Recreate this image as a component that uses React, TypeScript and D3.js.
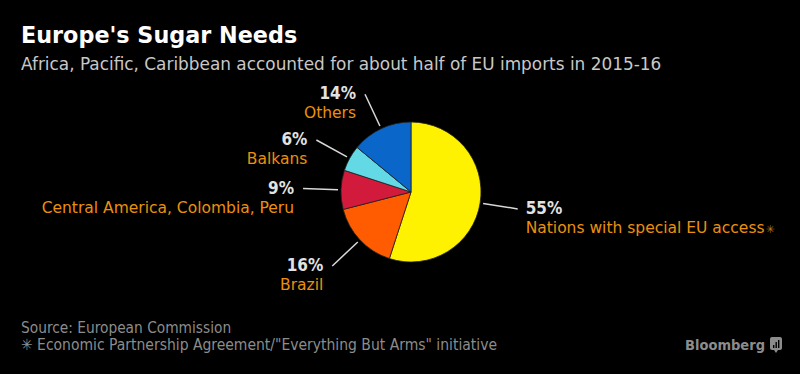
import { useEffect, useRef } from 'react';
import * as d3 from 'd3';

const categories = ['Nations with special EU access', 'Brazil', 'Central America, Colombia, Peru', 'Balkans', 'Others'];
const shares = [55, 16, 9, 6, 14];
const sliceColors = ['#fff200', '#ff5b00', '#d21a3c', '#63d9e6', '#0a67c9'];

const WIDE = '"DejaVu Sans", sans-serif';
const NARROW = '"DejaVu Sans Condensed", "DejaVu Sans", sans-serif';

function App() {
    const svgRef = useRef<SVGSVGElement>(null);

    useEffect(() => {
        const svg = d3.select(svgRef.current);
        svg.selectAll('*').remove();

        // titles
        svg.append('text')
            .attr('x', 21).attr('y', 43)
            .attr('fill', '#ffffff')
            .attr('font-family', WIDE)
            .attr('font-weight', 'bold')
            .attr('font-size', 22.3)
            .text("Europe's Sugar Needs");

        svg.append('text')
            .attr('x', 21).attr('y', 70)
            .attr('fill', '#c8c8c8')
            .attr('font-family', WIDE)
            .attr('font-size', 16.9)
            .text('Africa, Pacific, Caribbean accounted for about half of EU imports in 2015-16');

        const cx = 411, cy = 192, radius = 70;
        const g = svg.append('g').attr('transform', `translate(${cx},${cy})`);

        const data = categories.map((c, i) => ({ name: c, value: shares[i], color: sliceColors[i] }));
        const pie = d3.pie<any>().value(d => d.value).sort(null);
        const arc = d3.arc<any>().innerRadius(0).outerRadius(radius);
        const arcs = pie(data);

        g.selectAll('path.slice')
            .data(arcs)
            .join('path')
            .attr('class', 'slice')
            .attr('d', arc)
            .attr('fill', d => d.data.color)
            .attr('stroke', '#222')
            .attr('stroke-width', 0.8);

        // leader lines + labels
        const lineIn = d3.arc<any>().innerRadius(73).outerRadius(73);
        const lineOut = d3.arc<any>().innerRadius(108).outerRadius(108);

        arcs.forEach(a => {
            const p1 = lineIn.centroid(a);
            const p2 = lineOut.centroid(a);
            g.append('line')
                .attr('x1', p1[0]).attr('y1', p1[1])
                .attr('x2', p2[0]).attr('y2', p2[1])
                .attr('stroke', '#d8d8d8')
                .attr('stroke-width', 1.5);

            const right = p2[0] > 0;
            const tx = p2[0] + (right ? 8 : -9);
            const anchor = right ? 'start' : 'end';

            g.append('text')
                .attr('x', tx).attr('y', p2[1] + 5)
                .attr('text-anchor', anchor)
                .attr('fill', '#e2e2e2')
                .attr('font-family', NARROW)
                .attr('font-weight', 'bold')
                .attr('font-size', 17)
                .text(`${a.data.value}%`);

            const lbl = g.append('text')
                .attr('x', tx).attr('y', p2[1] + 24)
                .attr('text-anchor', anchor)
                .attr('fill', '#ec900c')
                .attr('font-family', WIDE)
                .attr('font-size', 15.5)
                .text(a.data.name);
            if (a.index === 0) {
                lbl.append('tspan')
                    .attr('fill', '#b07818')
                    .attr('font-size', 11)
                    .attr('dx', 1)
                    .text('\u2733');
            }
        });

        // footer
        svg.append('text')
            .attr('x', 21).attr('y', 333)
            .attr('fill', '#8c8c8c')
            .attr('font-family', NARROW)
            .attr('font-size', 15.3)
            .text('Source: European Commission');

        svg.append('text')
            .attr('x', 21).attr('y', 350)
            .attr('fill', '#8c8c8c')
            .attr('font-family', NARROW)
            .attr('font-size', 15.5)
            .text('\u2733 Economic Partnership Agreement/"Everything But Arms" initiative');

        svg.append('text')
            .attr('x', 765).attr('y', 350)
            .attr('text-anchor', 'end')
            .attr('fill', '#8c8c8c')
            .attr('font-family', NARROW)
            .attr('font-weight', 'bold')
            .attr('font-size', 14.5)
            .text('Bloomberg');

        const logo = svg.append('g').attr('transform', 'translate(770,337)');
        logo.append('rect')
            .attr('width', 12).attr('height', 13).attr('rx', 2)
            .attr('fill', '#8c8c8c');
        logo.append('path')
            .attr('d', 'M4,13 L6,16 L8,13 Z')
            .attr('fill', '#8c8c8c');
        [[3, 8], [5.5, 5], [8, 3]].forEach(([x, y]) => {
            logo.append('rect')
                .attr('x', x).attr('y', y)
                .attr('width', 1.4).attr('height', 11 - y)
                .attr('fill', '#000');
        });
    }, []);

    return (
        <svg
            ref={svgRef}
            width={800}
            height={374}
            style={{ position: 'fixed', left: 0, top: 0, background: '#000', display: 'block' }}
        />
    );
}

export default App;
